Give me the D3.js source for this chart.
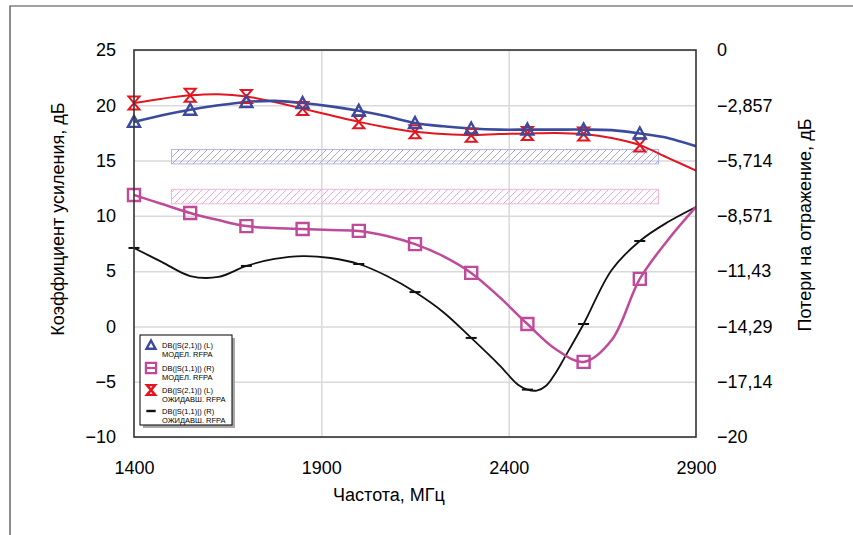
<!DOCTYPE html>
<html><head><meta charset="utf-8">
<script src="https://cdn.jsdelivr.net/npm/d3@7"></script>
<style>
body{margin:0;background:#fff}
svg{display:block}
text{font-family:"Liberation Sans",Arial,sans-serif;fill:#000}
</style>
</head><body>
<svg id="c" width="853" height="535"></svg>
<script>
// ---------- DATA ----------
const freqs = [1400,1475,1550,1625,1700,1775,1850,1925,2000,2075,2150,2225,2300,2375,2450,2525,2600,2675,2750,2825,2900];
// S21 model (left axis, dB)
const s21Model = [18.5,19.1,19.6,20.0,20.3,20.4,20.2,19.9,19.5,19.0,18.4,18.1,17.9,17.8,17.8,17.8,17.8,17.75,17.45,17.05,16.3];
// S21 expected (left axis, dB)
const s21Meas  = [20.2,20.6,20.9,21.0,20.8,20.3,19.7,19.1,18.5,18.0,17.6,17.4,17.3,17.4,17.45,17.5,17.4,17.05,16.4,15.25,14.1];
// S11 model (right axis, dB)
const s11Model = [-7.49,-7.96,-8.42,-8.79,-9.10,-9.20,-9.25,-9.30,-9.35,-9.61,-10.03,-10.65,-11.52,-12.76,-14.16,-15.45,-16.12,-14.99,-11.83,-9.82,-8.11];
// S11 expected (right axis, dB)
const s11MeasFreqs = [1400,1475,1550,1625,1700,1775,1850,1925,2000,2075,2150,2225,2300,2375,2425,2450,2475,2500,2525,2550,2600,2675,2750,2825,2900];
const s11Meas = [-10.23,-10.96,-11.68,-11.73,-11.16,-10.80,-10.65,-10.75,-11.06,-11.68,-12.51,-13.54,-14.88,-16.28,-17.30,-17.55,-17.60,-17.35,-16.70,-15.87,-14.16,-11.37,-9.87,-8.89,-8.11];
const markerFreqs = [1400,1550,1700,1850,2000,2150,2300,2450,2600,2750];
const s11MeasMarkerFreqs = [1400,1700,2000,2150,2300,2450,2600,2750];
// spec masks
const maskFreq = [1500, 2800];
const gainMask = [14.7, 16.0];      // left axis
const returnMask = [-7.95, -7.2];   // right axis
// ticks
const xTicks = [1400,1900,2400,2900];
const yLeftTicks = [-10,-5,0,5,10,15,20,25];
const yRightTicks = [0,-20/7,-40/7,-60/7,-80/7,-100/7,-120/7,-20];
const yRightLabels = ["0","\u22122,857","\u22125,714","\u22128,571","\u221211,43","\u221214,29","\u221217,14","\u221220"];
const legendItems = [
  {l1:"DB(|S(2,1)|) (L)", l2:"МОДЕЛ. RFPA", key:"tri"},
  {l1:"DB(|S(1,1)|) (R)", l2:"МОДЕЛ. RFPA", key:"sq"},
  {l1:"DB(|S(2,1)|) (L)", l2:"ОЖИДАВШ. RFPA", key:"hg"},
  {l1:"DB(|S(1,1)|) (R)", l2:"ОЖИДАВШ. RFPA", key:"dash"}
];

// ---------- STYLE ----------
const C = {blue:"#3b4a9c", red:"#e3161f", pink:"#c04a9a", black:"#111"};
const svg = d3.select("#c");
const L = 134, R = 696, T = 50, B = 437;
const x = d3.scaleLinear([1400,2900],[L,R]);
const yL = d3.scaleLinear([-10,25],[B,T]);
const yR = d3.scaleLinear([-20,0],[B,T]);
const fmtMinus = v => (v<0?"\u2212":"") + Math.abs(v);

// outer frame
svg.append("path").attr("d",`M10,535 V6 H853`).attr("fill","none").attr("stroke","#444").attr("stroke-width",1.2);

// defs: hatch patterns
const defs = svg.append("defs");
function hatch(id,color){
  const p = defs.append("pattern").attr("id",id).attr("patternUnits","userSpaceOnUse").attr("width",7).attr("height",7);
  p.append("path").attr("d","M-1,8 L8,-1 M-1,1 L1,-1 M6,8 L8,6").attr("stroke",color).attr("stroke-width",1);
}
hatch("hb","#a9a9e0");
hatch("hp","#f2a9d8");
defs.append("clipPath").attr("id","clip").append("rect").attr("x",L).attr("y",T).attr("width",R-L).attr("height",B-T);

// gridlines
svg.append("g").call(d3.axisLeft(yL).tickValues(yLeftTicks).tickSize(-(R-L)).tickFormat(""))
  .attr("transform",`translate(${L},0)`)
  .call(g=>{g.select(".domain").remove(); g.selectAll("line").attr("stroke","#d9d9d9").attr("stroke-width",1.5);});
svg.append("g").call(d3.axisBottom(x).tickValues(xTicks.slice(1,-1)).tickSize(-(B-T)).tickFormat(""))
  .attr("transform",`translate(0,${B})`)
  .call(g=>{g.select(".domain").remove(); g.selectAll("line").attr("stroke","#d9d9d9").attr("stroke-width",1.5);});

// masks
svg.append("rect").attr("x",x(maskFreq[0])).attr("width",x(maskFreq[1])-x(maskFreq[0]))
  .attr("y",yL(gainMask[1])).attr("height",yL(gainMask[0])-yL(gainMask[1]))
  .attr("fill","url(#hb)").attr("stroke","#b4b4e6").attr("stroke-width",1);
svg.append("rect").attr("x",x(maskFreq[0])).attr("width",x(maskFreq[1])-x(maskFreq[0]))
  .attr("y",yR(returnMask[1])).attr("height",yR(returnMask[0])-yR(returnMask[1]))
  .attr("fill","url(#hp)").attr("stroke","#f2b4dc").attr("stroke-width",1);

// axis labels
svg.append("g").call(d3.axisLeft(yL).tickValues(yLeftTicks).tickSize(0).tickPadding(18).tickFormat(fmtMinus))
  .attr("transform",`translate(${L},0)`)
  .call(g=>{g.select(".domain").remove(); g.selectAll("text").attr("font-size",18).attr("font-family","Liberation Sans, Arial, sans-serif").attr("fill","#000");});
svg.append("g").call(d3.axisRight(yR).tickValues(yRightTicks).tickSize(0).tickPadding(21).tickFormat((d,i)=>yRightLabels[i]))
  .attr("transform",`translate(${R},0)`)
  .call(g=>{g.select(".domain").remove(); g.selectAll("text").attr("font-size",18).attr("font-family","Liberation Sans, Arial, sans-serif").attr("fill","#000");});
svg.append("g").call(d3.axisBottom(x).tickValues(xTicks).tickSize(0).tickPadding(24).tickFormat(d=>d))
  .attr("transform",`translate(0,${B})`)
  .call(g=>{g.select(".domain").remove(); g.selectAll("text").attr("font-size",18).attr("font-family","Liberation Sans, Arial, sans-serif").attr("fill","#000");});

// titles
svg.append("text").attr("transform","translate(64,219) rotate(-90)").attr("text-anchor","middle").attr("font-size",18).text("Коэффициент усиления, дБ");
svg.append("text").attr("transform","translate(811,225) rotate(-90)").attr("text-anchor","middle").attr("font-size",18).text("Потери на отражение, дБ");
svg.append("text").attr("x",389).attr("y",501).attr("text-anchor","middle").attr("font-size",18).text("Частота, МГц");

// curves
const plot = svg.append("g").attr("clip-path","url(#clip)");
const curve = d3.curveCatmullRom.alpha(0.5);
function drawLine(fs, vs, sy, color, w){
  const data = fs.map((f,i)=>[f,vs[i]]);
  plot.append("path").datum(data)
    .attr("d", d3.line().x(d=>x(d[0])).y(d=>sy(d[1])).curve(curve))
    .attr("fill","none").attr("stroke",color).attr("stroke-width",w).attr("stroke-linejoin","round");
}
drawLine(s11MeasFreqs, s11Meas, yR, C.black, 1.8);
drawLine(freqs, s11Model, yR, C.pink, 2.5);
drawLine(freqs, s21Meas, yL, C.red, 2);
drawLine(freqs, s21Model, yL, C.blue, 2.6);

// markers
const sym = {
  tri: s => `M0,${-6*s} L${6*s},${5*s} L${-6*s},${5*s} Z`,
  sq:  s => `M${-6*s},${-6*s} H${6*s} V${6*s} H${-6*s} Z`,
  hg:  s => `M${-5.5*s},${-6.5*s} H${5.5*s} L${-5.5*s},${6.5*s} H${5.5*s} Z`,
  dash:s => `M${-5.5*s},0 H${5.5*s}`
};
function drawMarkers(fs, vs, mfs, sy, key, color, w){
  const pts = mfs.map(f=>[f, vs[fs.indexOf(f)]]);
  svg.append("g").selectAll("path").data(pts).join("path")
    .attr("transform",d=>`translate(${x(d[0])},${sy(d[1])})`)
    .attr("d",sym[key](1)).attr("fill","none").attr("stroke",color).attr("stroke-width",w);
}
drawMarkers(s11MeasFreqs, s11Meas, s11MeasMarkerFreqs, yR, "dash", C.black, 2);
drawMarkers(freqs, s11Model, markerFreqs, yR, "sq", C.pink, 2.4);
drawMarkers(freqs, s21Meas, markerFreqs, yL, "hg", C.red, 2);
drawMarkers(freqs, s21Model, markerFreqs, yL, "tri", C.blue, 2.4);

// plot frame
svg.append("rect").attr("x",L).attr("y",T).attr("width",R-L).attr("height",B-T)
  .attr("fill","none").attr("stroke","#333").attr("stroke-width",1.6);

// legend
const lg = svg.append("g");
lg.append("rect").attr("x",143).attr("y",338).attr("width",92).attr("height",90).attr("fill","#a8a8a8");
lg.append("rect").attr("x",140).attr("y",335).attr("width",92).attr("height",90).attr("fill","#fff").attr("stroke","#000").attr("stroke-width",1);
const lgColors = {tri:C.blue, sq:C.pink, hg:C.red, dash:C.black};
const lgY = [345,368,390,411];
legendItems.forEach((it,i)=>{
  const cy = lgY[i];
  const g = lg.append("g").attr("transform",`translate(151,${cy})`);
  if(it.key==="sq"){
    g.append("path").attr("d",sym.sq(0.85)).attr("fill","none").attr("stroke",lgColors.sq).attr("stroke-width",2.2);
    g.append("path").attr("d","M-5,0 H5").attr("stroke",lgColors.sq).attr("stroke-width",2.2);
  } else if(it.key==="dash"){
    g.append("path").attr("d",sym.dash(0.85)).attr("stroke",lgColors.dash).attr("stroke-width",2.4);
  } else {
    g.append("path").attr("d",sym[it.key](0.75)).attr("fill","none").attr("stroke",lgColors[it.key]).attr("stroke-width",2.4);
  }
  lg.append("text").attr("x",162).attr("y",cy+2.5).attr("font-size",7.5).text(it.l1);
  lg.append("text").attr("x",162).attr("y",cy+11.5).attr("font-size",7.5).text(it.l2);
});
</script>
</body></html>
